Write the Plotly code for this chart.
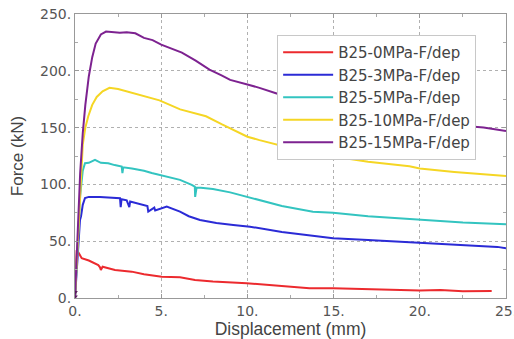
import plotly.graph_objects as go

names = ["B25-0MPa-F/dep", "B25-3MPa-F/dep", "B25-5MPa-F/dep", "B25-10MPa-F/dep", "B25-15MPa-F/dep"]
colors = ["#ec2a2e", "#2b2bd6", "#33c4c0", "#f5d624", "#7d2290"]

x0 = [0, 0.05, 0.1, 0.2, 0.39, 0.8, 1.35, 1.45, 1.5, 1.6, 2.32, 3.29, 4.0, 5.03, 6.09, 6.96, 8.0, 9.96, 12, 13.6, 14.97, 17, 20, 21.2, 22.5, 24.17]
f0 = [0, 30, 42.3, 40, 35, 33, 29, 27, 24.7, 27.5, 24.7, 23.2, 21, 18.8, 18.2, 15.9, 14.5, 13, 10.5, 8.5, 8.5, 7.5, 6.5, 7, 6, 6.2]

x3 = [0, 0.1, 0.2, 0.29, 0.35, 0.45, 0.58, 0.8, 1.45, 2.0, 2.61, 2.65, 2.7, 3.0, 3.15, 3.2, 3.5, 3.96, 4.2, 4.25, 4.6, 4.65, 5.32, 6.09, 6.6, 7.25, 8.2, 9.18, 10.15, 12, 14.97, 17, 20, 22.5, 24.5, 25]
f3 = [0, 25, 50, 68.7, 72, 82, 88, 89, 89, 88.5, 87.8, 80, 87, 86, 80, 85, 84, 82, 81, 76, 79.5, 77, 80.5, 76, 72, 68.7, 66, 64.3, 62.8, 58, 52.6, 51, 48.7, 46.5, 45, 43.8]

x5 = [0, 0.1, 0.2, 0.3, 0.45, 0.58, 0.8, 1.16, 1.5, 1.93, 2.3, 2.71, 2.75, 2.8, 3.3, 4.0, 4.45, 5.22, 6.09, 6.77, 6.95, 6.97, 7.0, 7.05, 7.3, 8.0, 9.0, 9.96, 11, 12, 13.8, 14.97, 17, 20, 22.5, 25]
f5 = [0, 30, 60, 90, 112, 118.6, 119, 121.6, 119, 118.6, 117, 115.7, 110, 115, 114, 112, 110, 107, 104, 99.6, 98, 89, 95, 97, 97, 96, 93, 89, 85, 81, 76, 75, 72, 68.7, 66.5, 65]

x10 = [0, 0.1, 0.2, 0.3, 0.45, 0.6, 0.77, 1.0, 1.26, 1.6, 2.0, 2.5, 3.0, 3.4, 4.0, 4.9, 6.1, 7.6, 8.5, 10.0, 10.7, 11.7, 13.0, 15.0, 17.0, 19.4, 20.0, 22, 25]
f10 = [0, 30, 65, 100, 135, 150, 160, 170, 177, 182, 185, 184, 182, 180.5, 178, 174, 166, 160, 153, 142, 139, 135, 130, 124.5, 120, 116, 114, 111, 107.5]

x15 = [0, 0.1, 0.2, 0.3, 0.45, 0.6, 0.8, 1.0, 1.2, 1.5, 1.8, 2.2, 2.6, 3.0, 3.5, 4.0, 4.5, 5.0, 5.5, 6.2, 7.0, 7.8, 8.5, 9.0, 10.0, 10.7, 11.7, 13, 15, 17, 19, 21, 23, 23.7, 25]
f15 = [0, 35, 75, 110, 145, 170, 195, 212, 224, 232, 234.5, 234, 233.5, 234, 233, 229, 227, 223, 220, 216, 209, 201, 196, 192, 188, 185, 180, 174, 167, 162, 158, 155, 151, 150, 147]

xs = [x0, x3, x5, x10, x15]
fs = [f0, f3, f5, f10, f15]

x_ticks = [0, 5, 10, 15, 20, 25]
x_labels = ["0.", "5.", "10.", "15.", "20.", "25."]
y_ticks = [0, 50, 100, 150, 200, 250]
y_labels = ["0.", "50.", "100.", "150.", "200.", "250."]

fig = go.Figure()
for n, c, x, f in zip(names, colors, xs, fs):
    fig.add_trace(go.Scatter(x=x, y=f, mode="lines", name=n,
                             line=dict(color=c, width=2)))

fig.add_trace(go.Scatter(x=[0, 0], y=[1, 5], mode="markers", showlegend=False,
                         marker=dict(symbol="triangle-down", size=5, color="#5a1a5e")))

axis_common = dict(showline=True, linecolor="#999", linewidth=1, mirror="ticks",
                   ticks="inside", ticklen=4, tickcolor="#999",
                   showgrid=True, gridcolor="#b0b0b0", griddash="dot", gridwidth=1,
                   zeroline=False, automargin=False, ticklabeloverflow="allow",
                   tickfont=dict(family="DejaVu Sans", size=14, color="#555"),
                   minor=dict(ticks="inside", ticklen=3, tickcolor="#aaa", showgrid=False))

fig.update_xaxes(range=[0, 25], tickvals=x_ticks, ticktext=x_labels,
                 minor_dtick=2.5,
                 title=dict(text="Displacement (mm)", standoff=2,
                            font=dict(family="Liberation Sans", size=17.5, color="#444")),
                 **axis_common)
fig.update_yaxes(range=[0, 250], tickvals=y_ticks, ticktext=y_labels,
                 minor_dtick=25,
                 title=dict(text="Force (kN)", standoff=12,
                            font=dict(family="Liberation Sans", size=17, color="#444")),
                 **axis_common)

fig.update_layout(
    width=514, height=339,
    margin=dict(l=75, r=8, t=14, b=41, autoexpand=False),
    plot_bgcolor="white", paper_bgcolor="white",
    legend=dict(x=0.469, y=0.926, xanchor="left", yanchor="top",
                bgcolor="white", bordercolor="#c8c8c8", borderwidth=1,
                font=dict(family="DejaVu Sans", size=15, color="#444"),
                itemwidth=50),
)

fig.write_html("out.html", config={"displayModeBar": False},
               post_script="document.body.style.margin='0';document.body.style.overflow='hidden';")
